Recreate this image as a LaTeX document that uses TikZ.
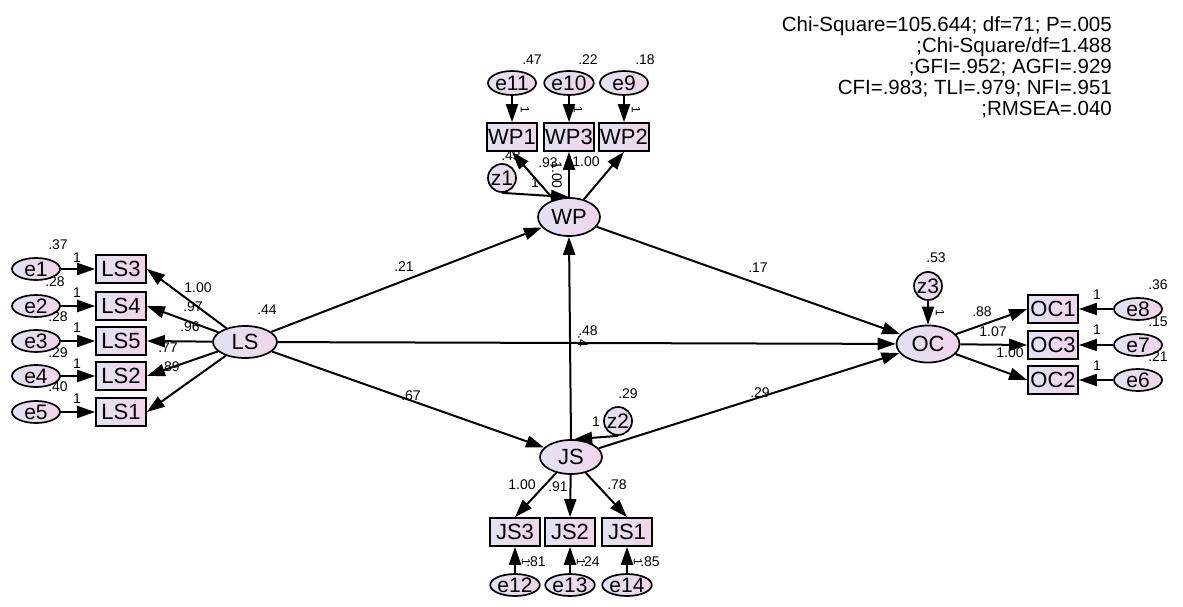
\documentclass[tikz,border=0pt]{standalone}
\usepackage{fontspec}
\setmainfont{Liberation Sans}
\usetikzlibrary{shapes.geometric,arrows.meta}
\definecolor{fillA}{RGB}{226,226,244}
\definecolor{fillB}{RGB}{242,212,234}
\begin{document}
\begin{tikzpicture}[x=1pt,y=-1pt,
  shade/.style={left color=fillA, right color=fillB, draw=black, line width=1.7pt, inner sep=0pt},
  lat/.style={shade, ellipse, font=\fontsize{22}{22}\selectfont},
  err/.style={shade, ellipse, minimum width=48pt, minimum height=22pt, font=\fontsize{21}{21}\selectfont},
  obs/.style={shade, rectangle, minimum width=50pt, minimum height=28pt, font=\fontsize{22}{22}\selectfont},
  dist/.style={shade, circle, minimum size=28pt, font=\fontsize{21}{21}\selectfont},
  arr/.style={line width=2pt, -{Triangle[length=18pt,width=12pt]}},
  lab/.style={font=\fontsize{14}{14}\selectfont, inner sep=0pt},
  one/.style={font=\fontsize{12}{12}\selectfont, inner sep=0pt, rotate=-90}]
\useasboundingbox (0,0) rectangle (1183,607);

% fit statistics
\node[anchor=north east, align=right, inner sep=0pt, font=\fontsize{20.5}{21.2}\selectfont] (fit) at (1112,16)
 {Chi-Square=105.644; df=71; P=.005\\;Chi-Square/df=1.488\\;GFI=.952; AGFI=.929\\CFI=.983; TLI=.979; NFI=.951\\;RMSEA=.040};

% latent variables
\node[lat, minimum width=64pt, minimum height=32pt] (LS) at (245,342) {LS};
\node[lat, minimum width=62pt, minimum height=38pt] (WP) at (569,217) {WP};
\node[lat, minimum width=63pt, minimum height=37pt] (OC) at (928,344) {OC};
\node[lat, minimum width=62pt, minimum height=34pt] (JS) at (571,457) {JS};

% disturbances
\node[dist] (z1) at (502,178) {z1};
\node[dist] (z2) at (618,421) {z2};
\node[dist] (z3) at (928,286) {z3};

% LS indicators
\foreach \n/\e/\y in {LS3/e1/269, LS4/e2/306, LS5/e3/341, LS2/e4/376, LS1/e5/412}{
  \node[obs] (\n) at (121,\y) {\n};
  \node[err] (\e) at (36,\y) {\e};
  \draw[arr] (\e) -- (\n.west);
  \draw[arr] (LS) -- (\n.east);
}

% WP indicators
\foreach \n/\e/\x in {WP1/e11/512, WP3/e10/569, WP2/e9/624}{
  \node[obs] (\n) at (\x,137) {\n};
  \node[err, minimum height=24pt] (\e) at (\x,83) {\e};
  \draw[arr] (\e) -- (\n.north);
  \draw[arr] (WP) -- (\n.south);
}

% OC indicators
\foreach \n/\e/\y in {OC1/e8/309, OC3/e7/345, OC2/e6/380}{
  \node[obs] (\n) at (1053,\y) {\n};
  \node[err] (\e) at (1138,\y) {\e};
  \draw[arr] (\e) -- (\n.east);
  \draw[arr] (OC) -- (\n.west);
}

% JS indicators
\foreach \n/\e/\x in {JS3/e12/515, JS2/e13/570, JS1/e14/627}{
  \node[obs] (\n) at (\x,532) {\n};
  \node[err] (\e) at (\x,585) {\e};
  \draw[arr] (\e) -- (\n.south);
  \draw[arr] (JS) -- (\n.north);
}

% structural paths
\draw[arr] (LS) -- (WP);
\draw[arr] (LS) -- (JS);
\draw[arr] (LS) -- (OC);
\draw[arr] (WP) -- (OC);
\draw[arr] (JS) -- (OC);
\draw[arr] (JS.north) -- (WP.south);
\draw[arr] (z1.south) -- (WP.north);
\draw[arr] (z2.south) -- (JS.80);
\draw[arr] (z3) -- (OC);

% labels: LS block
\node[lab] (l1) at (267,310) {.44};
\foreach \t/\x/\y in {.37/58/245, .28/55/282, .28/58/317, .29/58/353, .40/58/387}{
  \node[lab] at (\x,\y) {\t};
}
\foreach \y in {258,293,328,364,399}{ \node[lab] at (77,\y) {1}; }
\node[lab] at (198,288) {1.00};
\node[lab] at (193,307) {.97};
\node[lab] at (190,327) {.96};
\node[lab] at (168,348) {.77};
\node[lab] at (170,367) {.89};

% structural labels
\node[lab] at (404,267) {.21};
\node[lab] at (758,268) {.17};
\node[lab] at (588,331) {.48};
\node[lab, rotate=-90] at (583,341) {.4};
\node[lab] at (411,396) {.67};
\node[lab] at (760,393) {.29};

% WP block labels
\node[lab] at (532,60) {.47};
\node[lab] at (588,60) {.22};
\node[lab] at (645,60) {.18};
\node[one] at (525,110) {1};
\node[one] at (578,110) {1};
\node[one] at (636,110) {1};
\node[lab] at (511,156) {.43};
\node[lab] at (548,163) {.93};
\node[lab] at (586,162) {1.00};
\node[lab, rotate=-90] at (557,175) {1.00};
\node[lab] at (535,183) {1};

% JS block labels
\node[lab] at (628,394) {.29};
\node[lab] at (596,422) {1};
\node[lab] at (522,485) {1.00};
\node[lab] at (558,487) {.91};
\node[lab] at (617,485) {.78};
\node[lab] at (536,562) {.81};
\node[lab] at (590,562) {.24};
\node[lab] at (650,562) {.85};
\node[one] at (526,562) {1};
\node[one] at (581,562) {1};
\node[one] at (638,562) {1};

% OC block labels
\node[lab] at (936,258) {.53};
\node[one] at (940,313) {1};
\node[lab] at (982,312) {.88};
\node[lab] at (993,332) {1.07};
\node[lab] at (1010,353) {1.00};
\foreach \y in {295,330,366}{ \node[lab] at (1097,\y) {1}; }
\node[lab] at (1158,285) {.36};
\node[lab] at (1158,322) {.15};
\node[lab] at (1158,357) {.21};
\end{tikzpicture}
\end{document}
